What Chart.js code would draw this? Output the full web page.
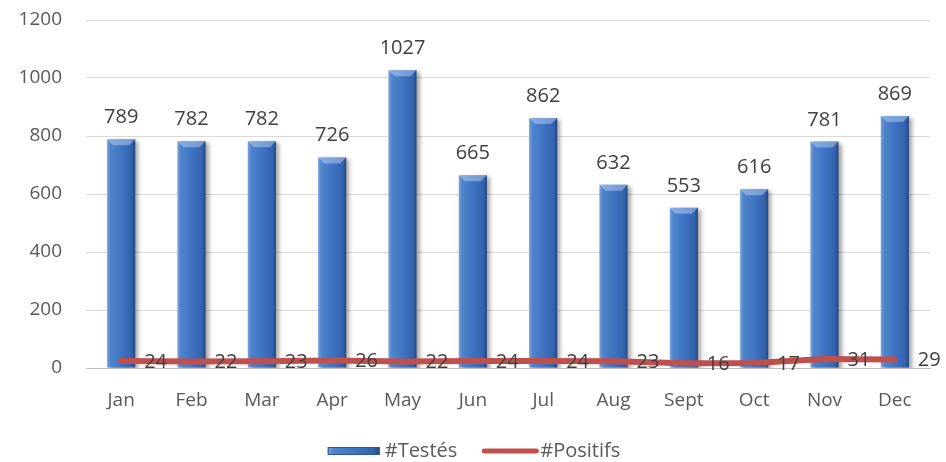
<!DOCTYPE html>
<html>
<head>
<meta charset="utf-8">
<script src="https://cdn.jsdelivr.net/npm/chart.js@4/dist/chart.umd.min.js"></script>
<style>
  html, body { margin: 0; padding: 0; background: #fff; }
  #wrap { width: 946px; height: 462px; }
</style>
</head>
<body>
<div id="wrap"><canvas id="graphique"></canvas></div>
<script>
var mois = ['Jan', 'Feb', 'Mar', 'Apr', 'May', 'Jun', 'Jul', 'Aug', 'Sept', 'Oct', 'Nov', 'Dec'];
var testes = [789, 782, 782, 726, 1027, 665, 862, 632, 553, 616, 781, 869];
var positifs = [24, 22, 23, 26, 22, 24, 24, 23, 16, 17, 31, 29];
var graduations = [0, 200, 400, 600, 800, 1000, 1200];
var legendes = ['#Testés', '#Positifs'];

var police = '"Open Sans", sans-serif';
var gris = '#595959';
var rouge = '#c0504d';

function degrade(ctx, x0, x1) 
{
    var g = ctx.createLinearGradient(x0, 0, x1, 0);
    g.addColorStop(0, '#7aa3dc');
    g.addColorStop(0.12, '#4f84cc');
    g.addColorStop(0.5, '#3f74c2');
    g.addColorStop(0.88, '#3262ac');
    g.addColorStop(1, '#23467e');
    return g;
}

function degradeBarre(context) 
{
    var chart = context.chart;
    if (!chart.chartArea || context.dataIndex === undefined) {
        return '#3f74c2';
    }
    var x = chart.scales.x.getPixelForValue(context.dataIndex);
    if (!isFinite(x)) {
        return '#3f74c2';
    }
    return degrade(chart.ctx, x - 14, x + 14);
}

// ombre sous les barres + biseau du haut
const ombre = {
    id: 'ombre',
    beforeDatasetDraw(chart, args) {
        if (args.index === 0) {
            chart.ctx.save();
            chart.ctx.shadowColor = 'rgba(0,0,0,0.35)';
            chart.ctx.shadowBlur = 4;
            chart.ctx.shadowOffsetX = 3;
            chart.ctx.shadowOffsetY = 2;
        }
    },
    afterDatasetDraw(chart, args) {
        if (args.index === 0) {
            const ctx = chart.ctx;
            ctx.restore();
            ctx.save();
            chart.getDatasetMeta(0).data.forEach((bar) => {
                const l = bar.x - bar.width / 2, r = bar.x + bar.width / 2, t = bar.y, b = 6;
                ctx.fillStyle = 'rgba(200,220,250,0.45)';
                ctx.beginPath();
                ctx.moveTo(l, t);
                ctx.lineTo(r, t);
                ctx.lineTo(r - b, t + b);
                ctx.lineTo(l + b, t + b);
                ctx.closePath();
                ctx.fill();
            });
            ctx.restore();
        }
    }
};

// étiquettes de valeurs
const etiquettes = {
    id: 'etiquettes',
    afterDatasetsDraw(chart) {
        const ctx = chart.ctx;
        ctx.save();
        ctx.font = '20px ' + police;
        ctx.fillStyle = '#404040';

        chart.getDatasetMeta(0).data.forEach((bar, i) => {
            ctx.textAlign = 'center';
            ctx.textBaseline = 'alphabetic';
            ctx.fillText(testes[i], bar.x, bar.y - 16);
        });

        chart.getDatasetMeta(1).data.forEach((pt, i) => {
            ctx.textAlign = 'left';
            ctx.textBaseline = 'middle';
            ctx.fillText(positifs[i], pt.x + 23, pt.y + 1);
        });
        ctx.restore();
    }
};

// légende dessinée à la main
const legende = {
    id: 'legende',
    afterDraw(chart) {
        const ctx = chart.ctx;
        const y = 451;
        ctx.save();
        ctx.font = '20px ' + police;
        ctx.textBaseline = 'middle';
        ctx.fillStyle = gris;

        const w1 = ctx.measureText(legendes[0]).width;
        const w2 = ctx.measureText(legendes[1]).width;
        const total = 52 + 5 + w1 + 24 + 58 + 1 + w2;
        let x = chart.width / 2 - total / 2 + 1;

        ctx.fillStyle = degrade(ctx, x, x + 52);
        ctx.fillRect(x, y - 4, 52, 8);
        ctx.strokeStyle = '#2b5797';
        ctx.lineWidth = 1;
        ctx.strokeRect(x + 0.5, y - 3.5, 51, 7);
        x += 57;
        ctx.fillStyle = gris;
        ctx.textAlign = 'left';
        ctx.fillText(legendes[0], x, y);
        x += w1 + 24;

        ctx.strokeStyle = rouge;
        ctx.lineWidth = 5;
        ctx.lineCap = 'round';
        ctx.beginPath();
        ctx.moveTo(x + 3, y);
        ctx.lineTo(x + 55, y);
        ctx.stroke();
        x += 59;
        ctx.fillText(legendes[1], x, y);
        ctx.restore();
    }
};

new Chart(document.getElementById('graphique'), {
    data: {
        labels: mois,
        datasets: [
            {
                type: 'bar',
                label: legendes[0],
                data: testes,
                backgroundColor: degradeBarre,
                borderWidth: 0,
                barPercentage: 0.8,
                categoryPercentage: 0.5,
                order: 2
            },
            {
                type: 'line',
                label: legendes[1],
                data: positifs,
                borderColor: rouge,
                backgroundColor: rouge,
                borderWidth: 6,
                borderCapStyle: 'round',
                pointRadius: 0,
                tension: 0,
                order: 1
            }
        ]
    },
    options: {
        responsive: true,
        maintainAspectRatio: false,
        animation: false,
        layout: { padding: { top: 20, right: 16, left: 0, bottom: 0 } },
        plugins: {
            tooltip: { enabled: false },
            legend: { display: false }
        },
        scales: {
            x: {
                grid: { display: false },
                border: { color: '#bfbfbf', width: 1 },
                ticks: { color: gris, font: { family: police, size: 19 }, padding: 13 },
                afterFit: function(scale) { scale.height = 94; }
            },
            y: {
                min: 0,
                max: 1200,
                afterBuildTicks: function(scale) {
                    scale.ticks = graduations.map(v => ({ value: v }));
                },
                grid: { color: '#d9d9d9', drawTicks: true, tickLength: 24, tickColor: 'rgba(0,0,0,0)' },
                border: { display: false },
                ticks: {
                    color: gris,
                    font: { family: police, size: 19 },
                    padding: 0,
                    callback: function(v) { return String(v); }
                },
                afterFit: function(scale) { scale.width = 86; }
            }
        }
    },
    plugins: [ombre, etiquettes, legende]
});
</script>
</body>
</html>
